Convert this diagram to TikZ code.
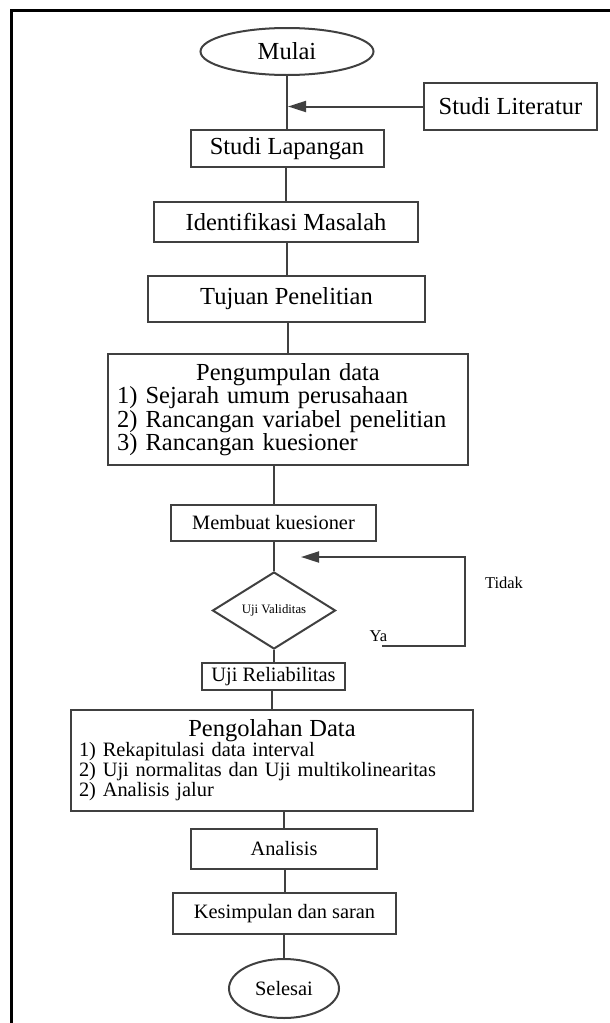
\documentclass[tikz,border=0pt]{standalone}
\usepackage{fontspec}
\setmainfont{Liberation Serif}
\usetikzlibrary{shapes.geometric,arrows.meta}
\begin{document}
\begin{tikzpicture}[x=1pt,y=-1pt,line width=2pt,
  every node/.style={inner sep=0pt,text=black},
  big/.style={font=\fontsize{24.5}{23.5}\selectfont},
  small/.style={font=\fontsize{20.4}{20}\selectfont},
  box/.style={draw=black!75,rectangle},
  arr/.style={-{Triangle[length=18pt,width=11pt]},shorten >=1pt}]
\useasboundingbox (0,0) rectangle (610,1023);
\draw[line width=3pt,black] (11,1030) -- (11,10) -- (620,10);
\node[draw=black!75,ellipse,big,minimum width=173pt,minimum height=47pt] (mulai) at (287,51.5) {Mulai};
\node[box,big,minimum width=173pt,minimum height=47pt] (lit) at (510.5,106.5) {Studi Literatur};
\foreach \n/\cx/\cy/\bw/\bh/\lab in {lap/287/148.5/193/37/Studi Lapangan,ident/286/222/264/40/Identifikasi Masalah,tujuan/286.5/299/277/46/Tujuan Penelitian} {\node[box,big,minimum width=\bw pt,minimum height=\bh pt] (\n) at (\cx,\cy) {\lab};}
\node[box,big,text width=342pt,inner xsep=9pt,minimum height=111pt,align=left] (kumpul) at (288,409.5) {\makebox[342pt]{Pengumpulan data}\\1) Sejarah umum perusahaan\\2) Rancangan variabel penelitian\\3) Rancangan kuesioner};
\foreach \n/\cx/\cy/\bw/\bh/\lab in {buat/273.5/523/205/36/Membuat kuesioner,reli/273.5/676.5/143/27/Uji Reliabilitas,anal/284/849/186/40/Analisis,kesim/284.5/913.5/223/41/Kesimpulan dan saran} {\node[box,small,minimum width=\bw pt,minimum height=\bh pt] (\n) at (\cx,\cy) {\lab};}
\node[draw=black!75,diamond,aspect=1.6,minimum width=123pt,minimum height=77pt,font=\fontsize{12.8}{14}\selectfont] (valid) at (274,610.5) {Uji Validitas};
\node[box,small,text width=386pt,inner xsep=8pt,minimum height=101pt,align=left] (olah) at (272,760.5) {\makebox[386pt]{\fontsize{24.5}{23}\selectfont Pengolahan Data}\\1) Rekapitulasi data interval\\2) Uji normalitas dan Uji multikolinearitas\\2) Analisis jalur};
\node[draw=black!75,ellipse,small,minimum width=110pt,minimum height=59pt] (selesai) at (284,988.5) {Selesai};
\node[font=\fontsize{16.5}{18}\selectfont] (ya) at (378.5,636) {Ya};
\node[font=\fontsize{16.5}{18}\selectfont] (tidak) at (504,583) {Tidak};
\coordinate (ya0) at (382,646);
\coordinate (tidak0) at (465,557);
\coordinate (balik) at (300,557);
\foreach \a/\b in {mulai/lap,lap/ident,ident/tujuan,tujuan/kumpul,kumpul/buat,buat/valid,valid/reli,reli/olah,olah/anal,anal/kesim,kesim/selesai} {\draw[black!75] (\b.north |- \a.south) -- (\b.north);}
\draw[arr,black!75] (lit.west) -- (lit.west -| mulai);
\draw[arr,black!75] (ya0) -| (tidak0) -- (balik);
\end{tikzpicture}
\end{document}
